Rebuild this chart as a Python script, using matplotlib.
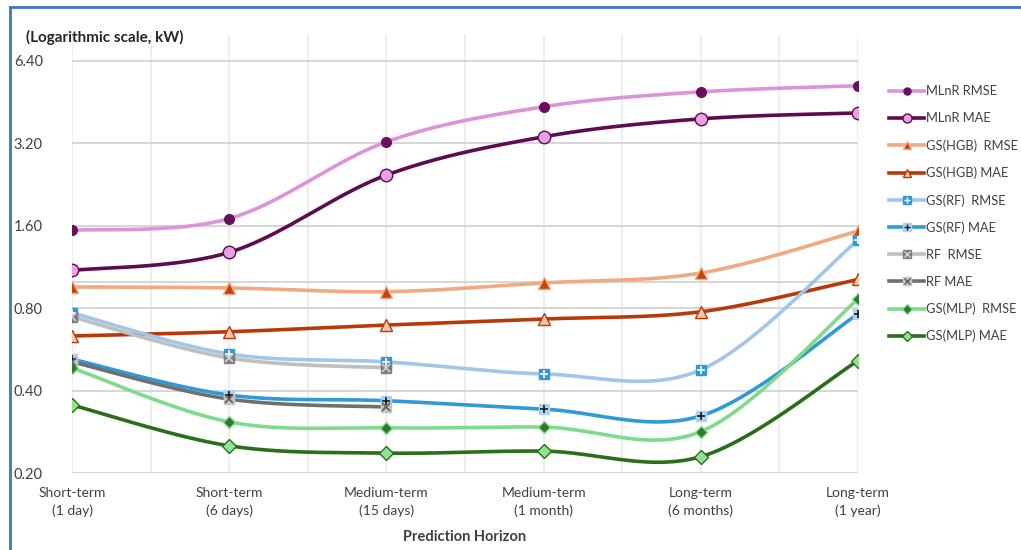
import numpy as np
import matplotlib.pyplot as plt
from matplotlib.lines import Line2D

plt.rcParams['font.family'] = ['Lato', 'DejaVu Sans']

# Prediction horizons (x categories)
horizons = ["Short-term\n(1 day)", "Short-term\n(6 days)", "Medium-term\n(15 days)",
            "Medium-term\n(1 month)", "Long-term\n(6 months)", "Long-term\n(1 year)"]

# Error values (kW)
mlnr_rmse = [1.54, 1.70, 3.24, 4.35, 4.93, 5.19]
mlnr_mae = [1.10, 1.28, 2.45, 3.38, 3.93, 4.13]
hgb_rmse = [0.957, 0.949, 0.92, 0.99, 1.076, 1.53]
hgb_mae = [0.634, 0.657, 0.695, 0.731, 0.777, 1.02]
gsrf_rmse = [0.77, 0.545, 0.51, 0.461, 0.477, 1.42]
gsrf_mae = [0.522, 0.386, 0.368, 0.343, 0.324, 0.763]
rf_rmse = [0.744, 0.527, 0.485]
rf_mae = [0.51, 0.373, 0.349]
mlp_rmse = [0.485, 0.308, 0.293, 0.295, 0.284, 0.865]
mlp_mae = [0.355, 0.252, 0.237, 0.241, 0.23, 0.515]

y_ticks = [0.2, 0.4, 0.8, 1.6, 3.2, 6.4]


# Excel-style smoothed line (Bezier through the points, in log space)
def smooth(y, n=40):
    x = np.arange(len(y), dtype=float)
    ly = np.log2(np.asarray(y, float))
    px = np.concatenate([[x[0]], x, [x[-1]]])
    py = np.concatenate([[ly[0]], ly, [ly[-1]]])
    xs, ys = [], []
    t = np.linspace(0, 1, n)
    for i in range(len(x) - 1):
        p0x, p1x, p2x, p3x = px[i], px[i + 1], px[i + 2], px[i + 3]
        p0y, p1y, p2y, p3y = py[i], py[i + 1], py[i + 2], py[i + 3]
        c1x, c1y = p1x + (p2x - p0x) / 6, p1y + (p2y - p0y) / 6
        c2x, c2y = p2x - (p3x - p1x) / 6, p2y - (p3y - p1y) / 6
        bx = (1 - t) ** 3 * p1x + 3 * (1 - t) ** 2 * t * c1x + 3 * (1 - t) * t ** 2 * c2x + t ** 3 * p2x
        by = (1 - t) ** 3 * p1y + 3 * (1 - t) ** 2 * t * c1y + 3 * (1 - t) * t ** 2 * c2y + t ** 3 * p2y
        xs.extend(bx)
        ys.extend(by)
    return np.array(xs), 2 ** np.array(ys)


# label, data, line colour, marker, marker fill, marker edge, size, overlay glyph, glyph colour
series = [
    ("MLnR RMSE", mlnr_rmse, "#DC93D8", "o", "#6A0F5D", "#6A0F5D", 7, None, None),
    ("MLnR MAE", mlnr_mae, "#5E0B50", "o", "#E8A0E3", "#5E0B50", 9, None, None),
    ("GS(HGB)  RMSE", hgb_rmse, "#F2A880", "^", "#C2450C", "#F2A880", 8.5, None, None),
    ("GS(HGB) MAE", hgb_mae, "#B83A0A", "^", "#FBC6A8", "#B83A0A", 8.5, None, None),
    ("GS(RF)  RMSE", gsrf_rmse, "#A2C6E8", "s", "#2F9AD6", "#2F9AD6", 7.5, "+", "white"),
    ("GS(RF) MAE", gsrf_mae, "#2F9AD6", "s", "#AFD1F0", "#AFD1F0", 7.5, "+", "#1A1A1A"),
    ("RF  RMSE", rf_rmse, "#BFBFBF", "s", "#7F7F7F", "#7F7F7F", 7.5, "x", "#D0D0D0"),
    ("RF MAE", rf_mae, "#6F6F6F", "s", "#C4C4C4", "#C4C4C4", 7.5, "x", "#606060"),
    ("GS(MLP)  RMSE", mlp_rmse, "#80DA8C", "D", "#2D7A2A", "#80DA8C", 6.5, None, None),
    ("GS(MLP) MAE", mlp_mae, "#2B6E1A", "D", "#92E294", "#2B6E1A", 7, None, None),
]

fig = plt.figure(figsize=(10.21, 5.5), dpi=100)
ax = fig.add_axes([72 / 1021, 1 - 473.3 / 550, (858 - 72) / 1021, (473.3 - 35) / 550])
ax.set_yscale("log", base=2)
ax.set_ylim(0.2, 7.95)
ax.set_xlim(0, 5)

# grid
for v in y_ticks + [1.0]:
    ax.axhline(v, color="#D6D6D6", lw=1.4, zorder=1)
for xv in np.arange(0, 5.01, 0.5):
    ax.axvline(xv, color="#EAEAEA", lw=1.2, zorder=0)

handles = []
for label, vals, lc, mk, mfc, mec, ms, glyph, gc in series:
    sx, sy = smooth(vals)
    ax.plot(sx, sy, color=lc, lw=2.6, solid_capstyle="round", zorder=3)
    xi = np.arange(len(vals))
    ax.plot(xi, vals, ls="none", marker=mk, ms=ms, mfc=mfc, mec=mec, mew=1.0, zorder=4)
    h = Line2D([], [], color=lc, lw=2.6, marker=mk, ms=ms * 0.72, mfc=mfc, mec=mec, mew=1.0)
    if glyph:
        ax.plot(xi, vals, ls="none", marker=glyph, ms=ms * 0.75, color=gc, mew=1.2, zorder=5)
        g = Line2D([], [], ls="none", marker=glyph, ms=ms * 0.55, color=gc, mew=1.0)
        handles.append((h, g))
    else:
        handles.append(h)

ax.set_yticks(y_ticks)
ax.set_yticklabels([f"{v:.2f}" for v in y_ticks])
ax.minorticks_off()
ax.set_xticks(range(len(horizons)))
ax.set_xticklabels(horizons, fontsize=10, color="#404040", linespacing=1.5)
ax.tick_params(axis="y", length=0, pad=21, labelsize=10.5, labelcolor="#404040")
ax.tick_params(axis="x", length=0, pad=10)
for s in ax.spines.values():
    s.set_visible(False)

ax.set_xlabel("Prediction Horizon", fontsize=10.5, fontweight="bold", color="#404040", labelpad=9)
fig.text(26 / 1021, 1 - 37 / 550, "(Logarithmic scale, kW)", fontsize=11,
         fontweight="bold", color="#262626", va="center", ha="left")

fig.legend(handles, [s[0] for s in series], loc="upper left",
           bbox_to_anchor=(883 / 1021, 1 - 79 / 550), frameon=False, fontsize=9.3,
           labelspacing=1.15, handlelength=2.7, handletextpad=0.15, borderpad=0,
           labelcolor="#404040")

# chart frame
fig.add_artist(Line2D([9.5 / 1021, 9.5 / 1021], [0, 1 - 6.5 / 550], color="#4472C4", lw=2))
fig.add_artist(Line2D([9.5 / 1021, 1], [1 - 6.5 / 550, 1 - 6.5 / 550], color="#4472C4", lw=2))

fig.savefig("out.png", dpi=100)
